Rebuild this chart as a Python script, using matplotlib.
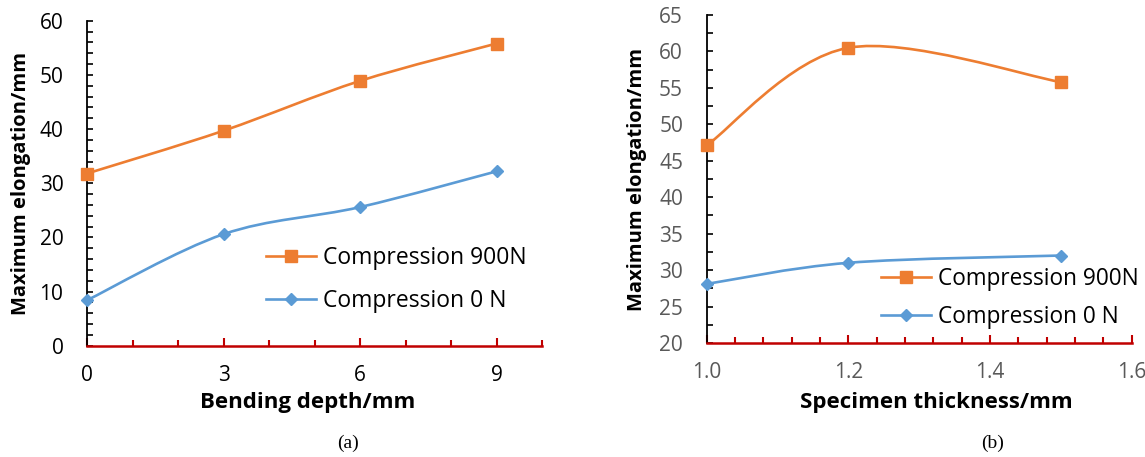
import numpy as np
import matplotlib
matplotlib.use('Agg')
import matplotlib.pyplot as plt
from matplotlib.path import Path
from matplotlib.patches import PathPatch
from matplotlib.lines import Line2D
from matplotlib.ticker import MultipleLocator, FormatStrFormatter

plt.rcParams['font.family'] = ['Open Sans', 'DejaVu Sans']

# ── data ────────────────────────────────────────────────────────────────────
depth = [0, 3, 6, 9]
depth_900N = [31.8, 39.7, 48.9, 55.8]
depth_0N = [8.4, 20.6, 25.6, 32.2]

thick = [1.0, 1.2, 1.5]
thick_900N = [47.1, 60.5, 55.8]
thick_0N = [28.1, 31.0, 32.0]

ORANGE = '#ED7D31'
BLUE = '#5B9BD5'
RED = '#C00000'


def smooth_path(x, y):
    """Excel-like smoothed line as a cubic Bezier path through the points."""
    pts = np.column_stack([x, y]).astype(float)
    n = len(pts)
    verts = [pts[0]]
    codes = [Path.MOVETO]
    for i in range(n - 1):
        p0 = pts[max(i - 1, 0)]
        p1 = pts[i]
        p2 = pts[i + 1]
        p3 = pts[min(i + 2, n - 1)]
        c1 = p1 + (p2 - p0) / 6
        c2 = p2 - (p3 - p1) / 6
        verts += [c1, c2, p2]
        codes += [Path.CURVE4] * 3
    return Path(verts, codes)


def draw_series(ax, x, y, color, marker, ms):
    ax.add_patch(PathPatch(smooth_path(x, y), fill=False, edgecolor=color,
                           lw=1.9, zorder=3, capstyle='round'))
    ax.plot(x, y, ls='none', marker=marker, ms=ms, color=color, zorder=4,
            clip_on=False)


def style_axes(ax, tick_color):
    for s in ('top', 'right'):
        ax.spines[s].set_visible(False)
    ax.spines['left'].set_color('black')
    ax.spines['left'].set_linewidth(1.3)
    ax.spines['bottom'].set_color(RED)
    ax.spines['bottom'].set_linewidth(1.8)
    ax.spines['bottom'].set_zorder(5)
    ax.tick_params(axis='y', which='both', direction='in', color='black',
                   width=1.2, length=4.5, pad=17, labelsize=15,
                   labelcolor=tick_color)
    ax.tick_params(axis='x', which='major', direction='in', color=RED,
                   width=1.5, length=5.5, pad=14, labelsize=15,
                   labelcolor=tick_color)
    ax.tick_params(axis='x', which='minor', direction='in', color=RED,
                   width=1.5, length=4.2)


def legend_handles():
    return [Line2D([], [], color=ORANGE, lw=1.9, marker='s', ms=9),
            Line2D([], [], color=BLUE, lw=1.9, marker='D', ms=6)]


fig = plt.figure(figsize=(11.45, 4.57), dpi=100)

# ── (a) bending depth ──────────────────────────────────────────────────────
ax1 = fig.add_axes([0.076, 0.2435, 0.3974, 0.711])
draw_series(ax1, depth, depth_900N, ORANGE, 's', 9)
draw_series(ax1, depth, depth_0N, BLUE, 'D', 6)
ax1.set_xlim(0, 10)
ax1.set_ylim(0, 60)
ax1.xaxis.set_major_locator(MultipleLocator(3))
ax1.xaxis.set_minor_locator(MultipleLocator(1))
ax1.yaxis.set_major_locator(MultipleLocator(10))
ax1.yaxis.set_minor_locator(MultipleLocator(2))
style_axes(ax1, 'black')
ax1.set_xlabel('Bending depth/mm', fontsize=16, fontweight='bold')
ax1.xaxis.set_label_coords(0.485, -0.143)
ax1.set_ylabel('Maximum elongation/mm', fontsize=14.5, fontweight='bold',
               va='center')
ax1.yaxis.set_label_coords(-0.144, 0.50)
ax1.legend(legend_handles(), ['Compression 900N', 'Compression 0 N'],
           loc='center left', bbox_to_anchor=(0.393, 0.204), frameon=False,
           fontsize=16.5, borderpad=0, borderaxespad=0, handlelength=2.2,
           handletextpad=0.3, labelspacing=0.85)

# ── (b) specimen thickness ─────────────────────────────────────────────────
ax2 = fig.add_axes([0.6172, 0.2495, 0.3712, 0.7177])
draw_series(ax2, thick, thick_900N, ORANGE, 's', 9)
draw_series(ax2, thick, thick_0N, BLUE, 'D', 6)
ax2.set_xlim(1.0, 1.6)
ax2.set_ylim(20, 65)
ax2.xaxis.set_major_locator(MultipleLocator(0.2))
ax2.xaxis.set_minor_locator(MultipleLocator(0.04))
ax2.yaxis.set_major_locator(MultipleLocator(5))
ax2.yaxis.set_minor_locator(MultipleLocator(2.5))
ax2.xaxis.set_major_formatter(FormatStrFormatter('%.1f'))
style_axes(ax2, '#595959')
ax2.set_xlabel('Specimen thickness/mm', fontsize=16, fontweight='bold')
ax2.xaxis.set_label_coords(0.54, -0.150)
ax2.set_ylabel('Maximum elongation/mm', fontsize=14.5, fontweight='bold',
               va='center')
ax2.yaxis.set_label_coords(-0.165, 0.50)
ax2.legend(legend_handles(), ['Compression 900N', 'Compression 0 N'],
           loc='center left', bbox_to_anchor=(0.41, 0.138), frameon=False,
           fontsize=16.3, borderpad=0, borderaxespad=0, handlelength=2.2,
           handletextpad=0.3, labelspacing=0.62)

# captions
fig.text(348 / 1145, 1 - 443 / 457, '(a)', ha='center', va='center',
         fontsize=14, family='Liberation Serif')
fig.text(993 / 1145, 1 - 443 / 457, '(b)', ha='center', va='center',
         fontsize=14, family='Liberation Serif')

fig.savefig('out.png', dpi=100)
